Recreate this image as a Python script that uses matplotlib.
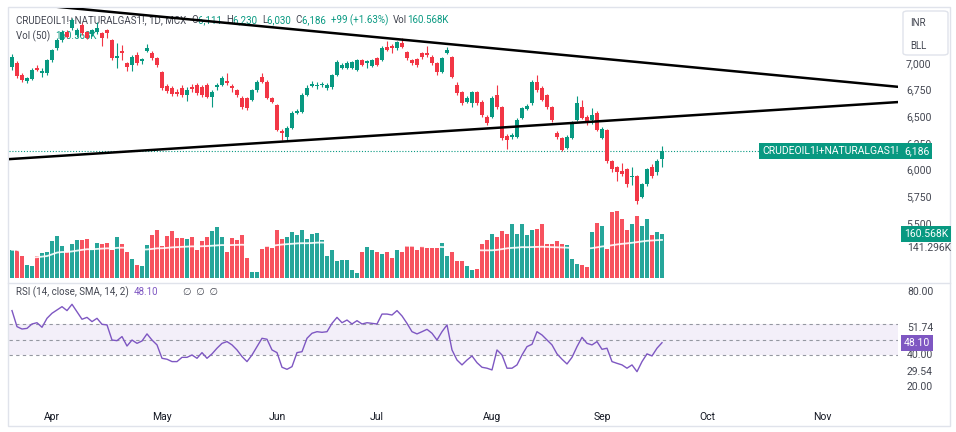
import numpy as np
import pandas as pd
import matplotlib
matplotlib.use("Agg")
import matplotlib.pyplot as plt
from matplotlib import font_manager as fm
from matplotlib.transforms import blended_transform_factory, offset_copy
from matplotlib.patches import Rectangle, FancyBboxPatch
from matplotlib.lines import Line2D

# font: narrow one if it is there
avail = {f.name for f in fm.fontManager.ttflist}
base = 'Liberation Sans Narrow' if 'Liberation Sans Narrow' in avail else 'Roboto'
plt.rcParams['font.family'] = [base, 'DejaVu Sans']

# ---- data (daily candles, 20 Mar 2024 .. 18 Sep 2024) ----
start_date = '2024-03-20'

opens = [6972,7009,6897,6841,6860,6963,6916,6916,7037,7149,
         7224,7299,7336,7271,7364,7299,7280,7299,7289,7317,
         7224,7056,7121,7009,6991,7084,7028,7121,7103,7056,
         6925,6795,6776,6739,6776,6711,6785,6804,6785,6804,
         6692,6785,6804,6841,6795,6757,6683,6683,6664,6757,
         6879,6832,6683,6618,6375,6319,6403,6543,6552,6711,
         6795,6795,6800,6776,6785,6897,6963,6963,6963,6944,
         7037,7009,6981,7056,7037,7159,7168,7149,7196,7112,
         7037,7047,7103,7103,7065,7009,6925,7103,7065,6804,
         6739,6646,6636,6739,6646,6506,6506,6711,6599,6328,
         6319,6319,6496,6580,6636,6832,6776,6711,6599,6356,
         6310,6216,6310,6478,6599,6506,6478,6543,6310,6384,
         6086,6030,6000,6011,5940,5946,5750,5871,6030,5983,
         6111]
highs = [7093,7028,6916,6880,6960,6990,6965,7050,7145,7240,
         7320,7320,7430,7340,7380,7310,7330,7390,7300,7330,
         7235,7200,7180,7020,7080,7110,7060,7190,7120,7070,
         6935,6810,6790,6770,6800,6780,6810,6820,6800,6820,
         6760,6820,6885,6920,6810,6770,6700,6690,6770,6850,
         6920,6850,6690,6625,6390,6420,6560,6580,6730,6800,
         6840,6830,6835,6820,6910,7035,7010,7030,7030,7050,
         7050,7040,7050,7070,7165,7220,7185,7220,7240,7120,
         7050,7060,7110,7170,7080,7020,7070,7160,7075,6830,
         6750,6700,6750,6750,6660,6520,6700,6800,6610,6340,
         6350,6490,6600,6625,6850,6900,6790,6720,6610,6370,
         6320,6335,6465,6700,6660,6520,6590,6560,6410,6395,
         6100,6040,6070,6025,6030,5960,5885,6025,6060,6110,
         6230]
lows = [6944,6870,6830,6820,6850,6930,6880,6900,7020,7130,
        7210,7240,7320,7250,7270,7230,7260,7280,7170,7240,
        7040,6960,7040,6930,6930,6990,7000,7110,7040,6970,
        6760,6730,6700,6700,6690,6650,6740,6710,6690,6680,
        6600,6760,6790,6800,6740,6690,6580,6570,6650,6740,
        6820,6670,6630,6370,6290,6290,6390,6530,6540,6700,
        6780,6770,6785,6760,6770,6885,6950,6950,6950,6930,
        6980,6960,6970,6980,7025,7120,7100,7130,7150,7040,
        6990,6970,7050,7070,6990,6900,6915,7090,6870,6710,
        6620,6630,6600,6620,6500,6430,6490,6580,6290,6200,
        6300,6310,6480,6570,6620,6740,6650,6580,6460,6300,
        6180,6200,6300,6470,6480,6430,6440,6370,6300,6070,
        5990,5900,5950,5850,5870,5685,5740,5860,5935,5960,
        6030]
closes = [7065,6888,6851,6869,6944,6944,6935,7037,7131,7224,
          7299,7252,7410,7317,7289,7243,7317,7336,7243,7289,
          7056,7075,7103,6972,7065,7009,7047,7149,7056,6991,
          6776,6748,6720,6720,6711,6757,6767,6729,6711,6692,
          6739,6804,6869,6823,6776,6711,6599,6590,6757,6832,
          6832,6683,6646,6384,6356,6403,6543,6562,6711,6776,
          6813,6804,6815,6804,6897,7019,6991,7009,7019,7037,
          6991,7028,7037,6991,7149,7131,7149,7205,7159,7056,
          7009,6991,7065,7084,7009,6925,7056,7131,6879,6729,
          6636,6683,6739,6636,6524,6450,6683,6599,6310,6291,
          6338,6478,6590,6608,6832,6757,6664,6599,6478,6319,
          6198,6319,6450,6636,6496,6450,6524,6384,6394,6086,
          6011,5983,5965,5871,5950,5713,5871,6011,5946,6086,
          6186]
# volume in thousands
volume = [103,103,80,46,43,80,91,95,135,152,
          116,95,123,137,140,142,103,129,125,129,
          103,150,125,94,71,46,43,119,157,176,
          116,152,170,146,146,144,150,103,135,150,
          172,186,150,95,147,138,158,74,22,22,
          106,116,111,176,144,150,168,156,176,144,
          159,164,140,79,101,62,67,67,30,18,
          94,113,101,94,89,94,74,101,94,116,
          116,103,116,111,111,111,128,82,94,62,
          62,43,28,34,125,140,162,150,170,162,
          196,162,196,158,176,180,196,125,125,135,
          125,119,68,50,46,40,168,201,189,107,
          241,245,217,176,196,225,189,217,158,168,
          160.568]
rsi = [68.5,58.3,56.8,57.2,60.0,60.8,57.9,63.6,66.8,68.9,
       71.0,68.5,72.5,67.8,63.0,64.2,61.5,63.6,59.8,59.4,
       49.8,49.4,52.0,46.0,49.8,47.7,49.2,53.7,49.8,46.7,
       38.2,37.6,36.1,36.1,38.8,38.8,40.3,38.2,41.8,38.2,
       41.0,44.6,47.7,48.8,46.7,43.5,39.3,36.1,40.3,45.6,
       50.9,50.3,43.5,41.8,32.5,31.2,32.9,41.8,42.4,50.9,
       54.1,55.1,54.7,55.1,60.4,64.2,60.8,62.5,60.0,62.1,
       60.0,60.8,60.4,60.0,66.3,66.3,65.7,68.5,65.1,60.4,
       55.1,53.7,55.1,56.6,54.1,49.8,55.1,59.4,43.5,37.1,
       34.0,37.1,39.7,35.4,32.5,31.9,30.8,43.5,40.3,31.9,
       31.9,34.0,40.3,45.6,47.1,55.1,53.0,49.8,46.7,41.0,
       37.6,34.6,38.8,45.6,51.5,47.7,46.7,48.8,43.9,44.6,
       36.1,35.0,34.0,31.9,34.0,29.7,36.1,41.0,39.7,44.6,
       48.1]

price_ticks = [7000, 6750, 6500, 6250, 6000, 5750, 5500]
rsi_ticks = [80, 40, 20]
rsi_extra = [51.74, 29.54]
last_price = 6186
vol_ma_label = '141.296K'

# trendline drawings, (bar index, price)
upper_line = [(-1, 7581), (177.2, 6786)]
lower_line = [(-0.6, 6108), (177.2, 6643)]

GREEN = '#089981'
RED = '#f23645'
VGREEN = '#26a69a'
VRED = '#f7525f'
PURPLE = '#7e57c2'
DARK = '#131722'
GREY = '#434651'

N = len(closes)
x = np.arange(N)
o = np.array(opens, float); c = np.array(closes, float)
up = c >= o
ccol = np.where(up, GREEN, RED)
vcol = np.where(up, VGREEN, VRED)

W, H = 956, 432
fig = plt.figure(figsize=(W / 100, H / 100), dpi=100, facecolor='white')

def px_axes(l, t, r, b):
    a = fig.add_axes([l / W, 1 - b / H, (r - l) / W, (b - t) / H])
    a.patch.set_visible(False)
    for s in a.spines.values():
        s.set_visible(False)
    a.set_xticks([]); a.set_yticks([])
    return a

XLIM = (-0.6, 177.2)

# ---- price pane ----
axv = px_axes(9, 8, 898, 282)
ax = px_axes(9, 8, 898, 282)
axv.set_zorder(1); ax.set_zorder(2)
ax.set_xlim(*XLIM); axv.set_xlim(*XLIM)
ax.set_ylim(4956, 7525)
axv.set_ylim(-14.6, 985.5)

axv.bar(x, volume, width=0.85, color=vcol, linewidth=0)
vol_ma = pd.Series(volume).rolling(50, min_periods=1).mean()
axv.plot(x, vol_ma, color='white', lw=1.3, alpha=0.9)

ax.vlines(x, lows, highs, colors=ccol, lw=0.8, zorder=2)
body_h = np.maximum(np.abs(c - o), 8)
ax.bar(x, body_h, bottom=np.minimum(o, c), width=0.62, color=ccol,
       linewidth=0, zorder=3)
ax.axhline(last_price, color=GREEN, ls=(0, (1, 1.6)), lw=0.8, zorder=1)
for ln in (upper_line, lower_line):
    ax.plot([ln[0][0], ln[1][0]], [ln[0][1], ln[1][1]], color='black',
            lw=1.8, zorder=4, solid_capstyle='round')

# ---- RSI pane ----
axr = px_axes(9, 284, 898, 400)
axr.set_xlim(*XLIM)
axr.set_ylim(11.7, 85.4)
axr.axhspan(40, 60, color=PURPLE, alpha=0.09, lw=0)
for lv in (40, 50, 60):
    axr.axhline(lv, color='#9598a1', ls=(0, (3, 3)), lw=0.8)
axr.plot(x, rsi, color=PURPLE, lw=1.0)

# ---- frame ----
fig.add_artist(Rectangle((8 / W, 1 - 426 / H), 942 / W, 419 / H,
                         transform=fig.transFigure, fill=False,
                         ec='#e0e3eb', lw=1))
fig.add_artist(Line2D([8 / W, 950 / W], [1 - 283 / H, 1 - 283 / H],
                      transform=fig.transFigure, color='#e0e3eb', lw=1))

# ---- right scale labels ----
tp = blended_transform_factory(fig.transFigure, ax.transData)
for p in price_ticks:
    fig.text(906 / W, p, f'{p:,}', transform=tp, fontsize=7.5,
             color=GREY, va='center')
fig.text(899 / W, last_price, 'CRUDEOIL1!+NATURALGAS1!', transform=tp,
         fontsize=7.5, color='white', va='center', ha='right',
         bbox=dict(boxstyle='square,pad=0.3', fc=GREEN, ec='none'))
fig.text(904 / W, last_price, f'{last_price:,}', transform=tp, fontsize=7.5,
         color='white', va='center',
         bbox=dict(boxstyle='square,pad=0.3', fc=GREEN, ec='none'))

tv = blended_transform_factory(fig.transFigure, axv.transData)
fig.text(904 / W, volume[-1], f'{volume[-1]:.3f}K', transform=tv,
         fontsize=7.5, color='white', va='center',
         bbox=dict(boxstyle='square,pad=0.3', fc=GREEN, ec='none'))
fig.text(907 / W, 1 - 248 / H, vol_ma_label, fontsize=7.5, color=GREY,
         va='center')

tr = blended_transform_factory(fig.transFigure, axr.transData)
for v in rsi_ticks + [rsi_extra[1]]:
    fig.text(907 / W, v, f'{v:.2f}', transform=tr, fontsize=7.5,
             color=GREY, va='center')
# the upper band label sits pushed up, clear of the current value box
fig.text(907 / W, rsi_extra[0], f'{rsi_extra[0]:.2f}',
         transform=offset_copy(tr, fig=fig, y=9, units='dots'),
         fontsize=7.5, color=GREY, va='center')
fig.text(904 / W, rsi[-1], f'{rsi[-1]:.2f}', transform=tr, fontsize=7.5,
         color='white', va='center',
         bbox=dict(boxstyle='square,pad=0.3', fc=PURPLE, ec='none'))

# currency / unit box
fig.add_artist(FancyBboxPatch((903 / W, 1 - 55 / H), 45 / W, 44 / H,
                              boxstyle='round,pad=0,rounding_size=0.005',
                              transform=fig.transFigure, fc='white',
                              ec='#e0e3eb', lw=1))
fig.text(910 / W, 1 - 23 / H, 'INR', fontsize=7, color=GREY, va='center')
fig.text(910 / W, 1 - 46 / H, 'BLL', fontsize=7, color=GREY, va='center')

# ---- month labels ----
dates = pd.bdate_range(start_date, periods=int(XLIM[1]) + 1)
tm = blended_transform_factory(axr.transData, fig.transFigure)
for i in range(1, len(dates)):
    if dates[i].month != dates[i - 1].month:
        fig.text(i, 1 - 417 / H, dates[i].strftime('%b'), transform=tm,
                 fontsize=7.5, color=DARK, ha='center', va='center')

# ---- legends (under the candles) ----
renderer = fig.canvas.get_renderer()

def text_row(x_px, y_px, parts, size=7):
    for s, col in parts:
        t = fig.text(x_px / W, 1 - y_px / H, s, color=col, fontsize=size,
                     va='center', zorder=-1)
        x_px += t.get_window_extent(renderer).width

text_row(16, 20, [('CRUDEOIL1!+NATURALGAS1!, 1D, MCX  ', GREY),
                  ('O', GREY), ('6,111  ', GREEN),
                  ('H', GREY), ('6,230  ', GREEN),
                  ('L', GREY), ('6,030  ', GREEN),
                  ('C', GREY), ('6,186  ', GREEN),
                  ('+99 (+1.63%)  ', GREEN),
                  ('Vol', GREY), ('160.568K', GREEN)])
text_row(16, 36, [('Vol (50)  ', GREY), ('160.568K', GREEN)])
text_row(16, 292, [('RSI (14, close, SMA, 14, 2)  ', GREY),
                   ('48.10', PURPLE)])
fig.text(183 / W, 1 - 292 / H, '∅  ∅  ∅', fontsize=7, color=GREY,
         va='center')

fig.savefig('out.png', dpi=100, facecolor='white')
